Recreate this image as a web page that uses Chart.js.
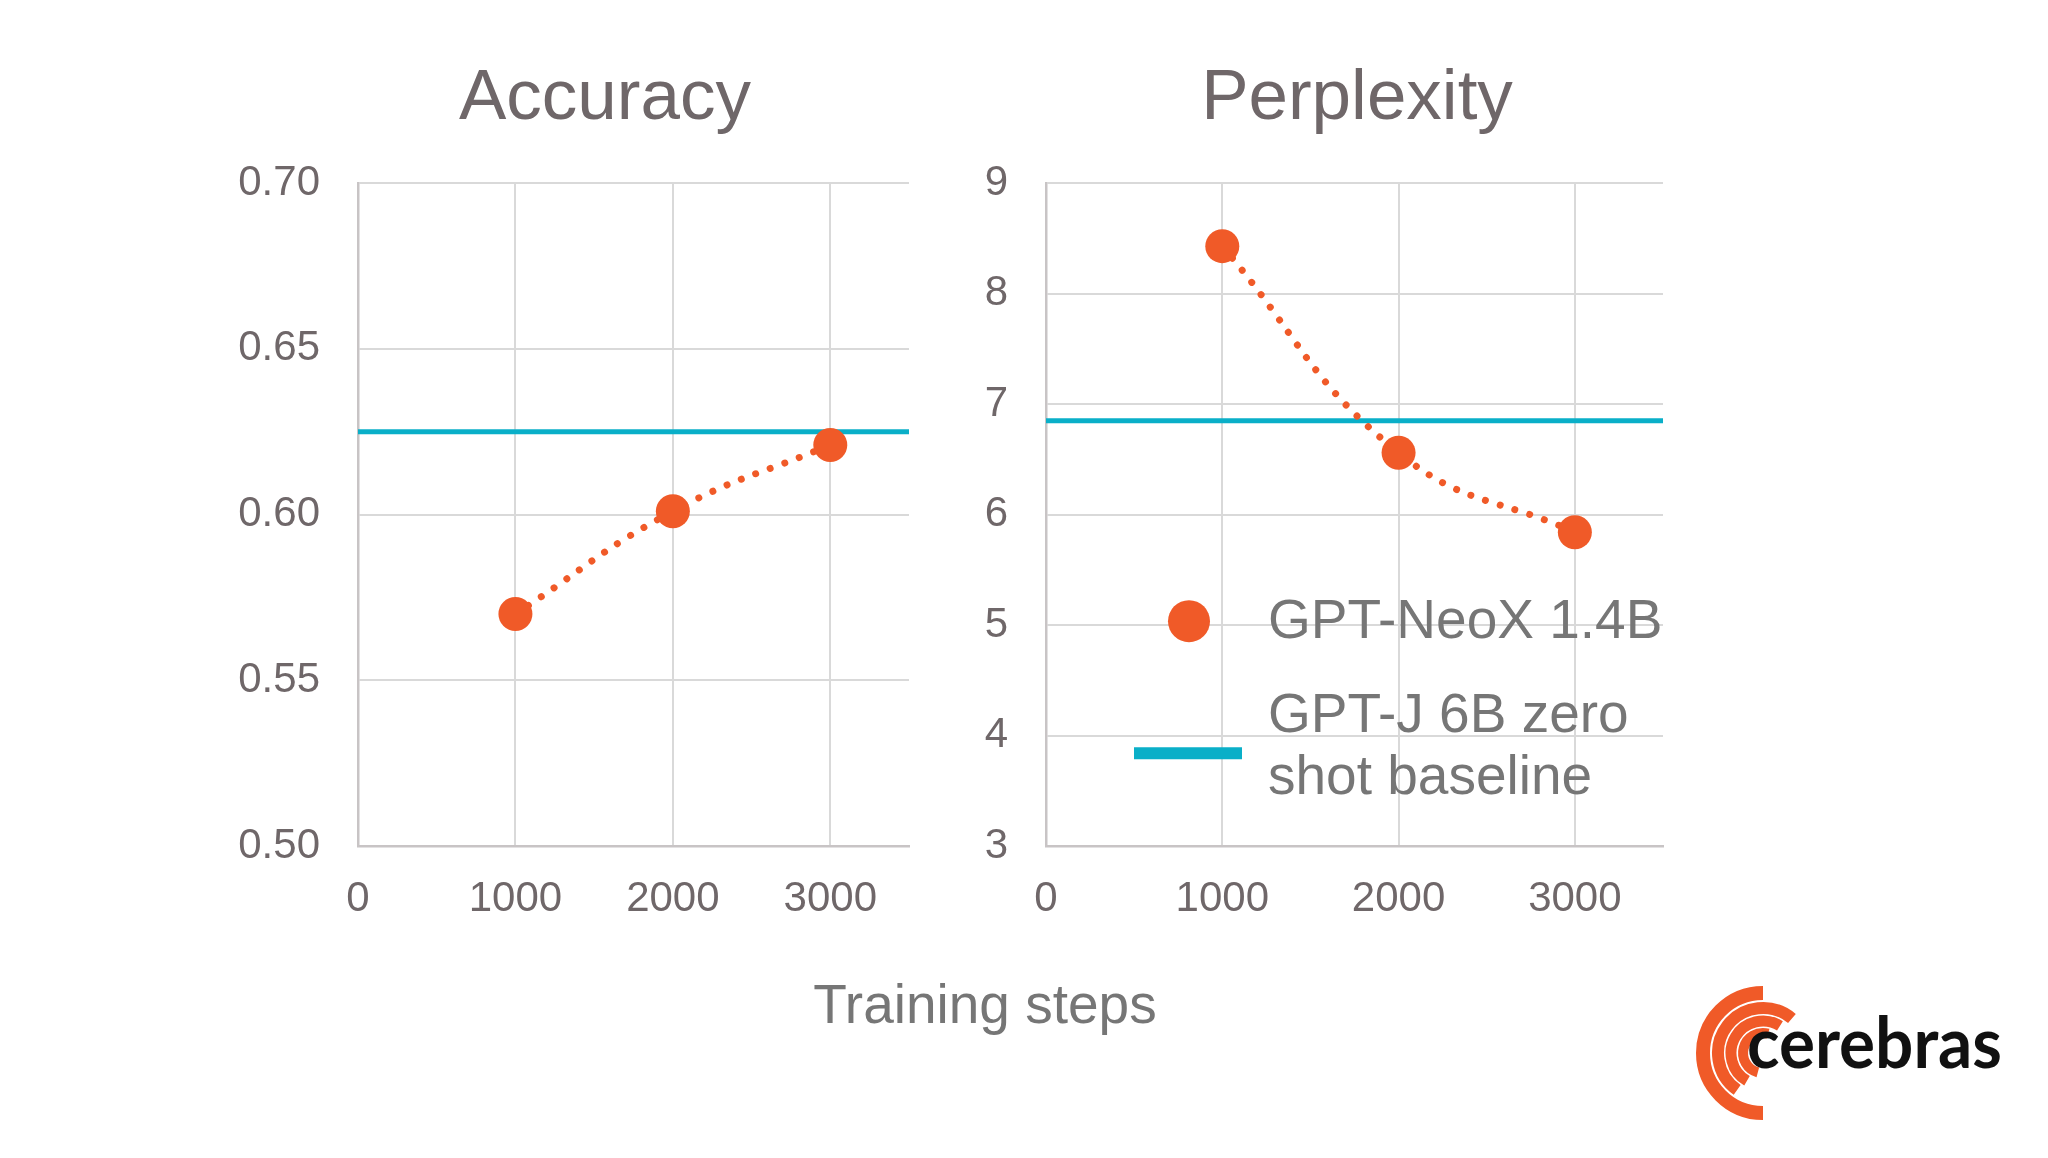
<!DOCTYPE html>
<html>
<head>
<meta charset="utf-8">
<script src="https://cdn.jsdelivr.net/npm/chart.js@4.4.1/dist/chart.umd.min.js"></script>
<style>
  html, body { margin: 0; padding: 0; background: #fff; }
  body { width: 2048px; height: 1158px; position: relative; overflow: hidden; }
  canvas { position: absolute; }
  #accCanvas { left: 0; top: 0; }
  #pplCanvas { left: 960px; top: 0; }
  #xlabel {
    position: absolute; left: 785px; width: 400px; top: 972px;
    text-align: center; font: 55px 'Liberation Sans', Arial, sans-serif; color: #767676;
  }
  #logo { position: absolute; left: 1680px; top: 960px; }
</style>
</head>
<body>
<canvas id="accCanvas" width="930" height="926"></canvas>
<canvas id="pplCanvas" width="794" height="926"></canvas>
<div id="xlabel">Training steps</div>
<svg id="logo" width="368" height="190" viewBox="1680 960 368 190">
  <g id="arcs" fill="none" stroke="#f05a28"></g>
  <text x="1747" y="1068" font-family="Lato, 'Liberation Sans', sans-serif" font-weight="bold" font-size="70" fill="#111" textLength="255" lengthAdjust="spacingAndGlyphs">cerebras</text>
</svg>
<script>
'use strict';

// data
var steps = [1000, 2000, 3000];
var accuracy = [0.570, 0.601, 0.621];
var perplexity = [8.43, 6.56, 5.84];
var accBaseline = 0.625;
var pplBaseline = 6.85;
var xRange = [0, 3500];
var xTicks = [0, 1000, 2000, 3000];
var accRange = [0.50, 0.70];
var accTicks = [0.50, 0.55, 0.60, 0.65, 0.70];
var pplRange = [3, 9];
var pplTicks = [3, 4, 5, 6, 7, 8, 9];
var seriesLabel = 'GPT-NeoX 1.4B';
var baselineLabel = ['GPT-J 6B zero', 'shot baseline'];

var ORANGE = '#f05a28';
var TEAL = '#0aafc8';
var TEXT = '#6f6769';
var FONT = "'Liberation Sans', Arial, sans-serif";

function points(ys) {
  return steps.map(function (s, i) { return { x: s, y: ys[i] }; });
}
function flat(y) {
  return [{ x: xRange[0], y: y }, { x: xRange[1], y: y }];
}
function fixedTicks(list) {
  return function (scale) {
    scale.ticks = list.map(function (v) { return { value: v }; });
  };
}

// moves the title so it is centred where the slide has it
var titleShift = {
  id: 'titleShift',
  afterLayout: function (chart) {
    var c = chart.options.plugins.titleShift.center;
    var t = chart.titleBlock;
    if (!t || c == null) return;
    var w = t.right - t.left;
    t.left = c - w / 2;
    t.right = c + w / 2;
  }
};

// legend drawn inside the plot area of the perplexity chart
var innerLegend = {
  id: 'innerLegend',
  afterDraw: function (chart) {
    var opts = chart.options.plugins.innerLegend;
    if (!opts || !opts.show) return;
    var ctx = chart.ctx, a = chart.chartArea;
    var ds = chart.data.datasets;
    ctx.save();
    ctx.fillStyle = ds[0].pointBackgroundColor;
    ctx.beginPath();
    ctx.arc(a.left + 143, a.top + 438, 21, 0, Math.PI * 2);
    ctx.fill();
    ctx.strokeStyle = ds[1].borderColor;
    ctx.lineWidth = 12;
    ctx.beginPath();
    ctx.moveTo(a.left + 88, a.top + 570);
    ctx.lineTo(a.left + 196, a.top + 570);
    ctx.stroke();
    ctx.fillStyle = '#767676';
    ctx.font = '55px ' + FONT;
    ctx.textBaseline = 'middle';
    ctx.fillText(ds[0].label, a.left + 222, a.top + 440);
    var lines = [].concat(ds[1].label);
    lines.forEach(function (t, i) {
      ctx.fillText(t, a.left + 222, a.top + 534 + i * 62);
    });
    ctx.restore();
  }
};

function makeChart(id, title, titleX, ys, base, yRange, yTicks, yFmt, yWidth, padRight, showLegend) {
  return new Chart(document.getElementById(id), {
    type: 'line',
    data: {
      datasets: [
        {
          label: seriesLabel,
          data: points(ys),
          borderColor: ORANGE,
          borderWidth: 7,
          borderDash: [0.01, 15.5],
          borderCapStyle: 'round',
          tension: 0.45,
          pointRadius: 17,
          pointBackgroundColor: ORANGE,
          pointBorderWidth: 0
        },
        {
          label: baselineLabel,
          data: flat(base),
          borderColor: TEAL,
          borderWidth: 5,
          pointRadius: 0
        }
      ]
    },
    options: {
      responsive: false,
      animation: false,
      layout: { padding: { left: 0, right: padRight, top: 0, bottom: 0 } },
      plugins: {
        legend: { display: false },
        tooltip: { enabled: false },
        title: {
          display: true,
          text: title,
          color: TEXT,
          font: { family: FONT, size: 71, weight: 'normal' },
          padding: { top: 57, bottom: 41 }
        },
        titleShift: { center: titleX },
        innerLegend: { show: showLegend }
      },
      scales: {
        x: {
          type: 'linear',
          min: xRange[0],
          max: xRange[1],
          afterBuildTicks: fixedTicks(xTicks),
          ticks: {
            color: TEXT,
            padding: 28,
            font: { family: FONT, size: 42 },
            maxRotation: 0,
            autoSkip: false,
            callback: function (v) { return String(v); }
          },
          grid: { color: '#d9d9d9', lineWidth: 2, drawTicks: false },
          border: { color: '#c8c4c5', width: 2.5 },
          afterFit: function (s) { s.height = 80; }
        },
        y: {
          min: yRange[0],
          max: yRange[1],
          afterBuildTicks: fixedTicks(yTicks),
          ticks: {
            color: TEXT,
            padding: 38,
            font: { family: FONT, size: 42 },
            autoSkip: false,
            callback: yFmt
          },
          grid: { color: '#d9d9d9', lineWidth: 2, drawTicks: false },
          border: { color: '#c8c4c5', width: 2.5 },
          afterFit: function (s) { s.width = yWidth; }
        }
      }
    },
    plugins: [titleShift, innerLegend]
  });
}

makeChart('accCanvas', 'Accuracy', 605, accuracy, accBaseline, accRange, accTicks,
  function (v) { return v.toFixed(2); }, 358, 21, false);
makeChart('pplCanvas', 'Perplexity', 397, perplexity, pplBaseline, pplRange, pplTicks,
  function (v) { return String(v); }, 86, 91, true);

// logo arcs
var arcs = [
  { r: 60, w: 14, a0: 90, a1: 270 },
  { r: 45, w: 12, a0: 50, a1: 235 },
  { r: 32, w: 11, a0: 58, a1: 240 },
  { r: 20, w: 10, a0: 75, a1: 255 }
];
var cx = 1763, cy = 1053;
var g = document.getElementById('arcs');
arcs.forEach(function (a) {
  var t0 = a.a0 * Math.PI / 180, t1 = a.a1 * Math.PI / 180;
  var x0 = cx + a.r * Math.cos(t0), y0 = cy - a.r * Math.sin(t0);
  var x1 = cx + a.r * Math.cos(t1), y1 = cy - a.r * Math.sin(t1);
  var large = (a.a1 - a.a0) > 180 ? 1 : 0;
  var p = document.createElementNS('http://www.w3.org/2000/svg', 'path');
  p.setAttribute('d', 'M' + x0 + ' ' + y0 + ' A' + a.r + ' ' + a.r + ' 0 ' + large + ' 0 ' + x1 + ' ' + y1);
  p.setAttribute('stroke-width', a.w);
  g.appendChild(p);
});
</script>
</body>
</html>
